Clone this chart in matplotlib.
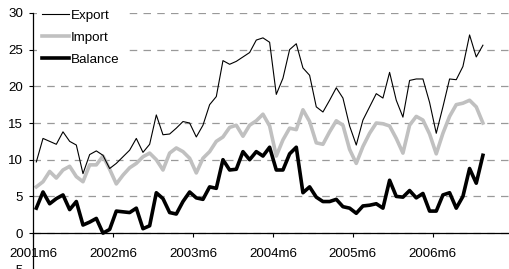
import numpy as np
import matplotlib
matplotlib.use("Agg")
import matplotlib.pyplot as plt

plt.rcParams['font.family'] = ['Liberation Sans', 'DejaVu Sans']

# monthly values, 2001m6 .. 2007m1
export = [9.7, 12.9, 12.5, 12.1, 13.8, 12.5, 12.0, 8.1, 10.7, 11.2, 10.6, 8.8,
          9.5, 10.4, 11.3, 12.9, 11.0, 12.1, 16.1, 13.4, 13.5, 14.3, 15.2, 15.0,
          13.1, 14.7, 17.5, 18.6, 23.5, 23.0, 23.4, 24.0, 24.6, 26.3, 26.6, 26.0,
          18.9, 21.1, 25.0, 25.8, 22.5, 21.5, 17.2, 16.5, 18.1, 19.8, 18.4, 14.6,
          12.0, 15.4, 17.2, 19.0, 18.4, 21.9, 18.1, 15.8, 20.8, 21.0, 21.0, 17.8,
          13.6, 17.2, 21.0, 20.9, 22.7, 27.0, 24.0, 25.6]
imports = [6.3, 7.0, 8.4, 7.5, 8.6, 9.1, 7.7, 7.0, 9.3, 9.3, 10.5, 8.7,
           6.7, 7.9, 8.9, 9.5, 10.4, 10.9, 10.0, 8.6, 10.9, 11.6, 11.1, 10.2,
           8.2, 10.2, 11.1, 12.5, 13.1, 14.4, 14.7, 13.2, 14.7, 15.3, 16.2, 14.6,
           10.5, 12.7, 14.3, 14.1, 16.8, 15.2, 12.3, 12.1, 13.8, 15.3, 14.7, 11.4,
           9.5, 11.8, 13.6, 15.0, 14.9, 14.6, 12.9, 10.9, 14.7, 15.9, 15.4, 13.5,
           10.8, 13.6, 15.9, 17.5, 17.7, 18.1, 17.2, 15.0]
balance = [3.4, 5.6, 4.0, 4.7, 5.2, 3.2, 4.3, 1.1, 1.5, 2.0, 0.0, 0.5,
           3.0, 2.9, 2.8, 3.4, 0.6, 1.0, 5.5, 4.7, 2.8, 2.6, 4.3, 5.6,
           4.8, 4.6, 6.3, 6.1, 10.0, 8.6, 8.7, 11.1, 10.0, 11.1, 10.5, 11.7,
           8.6, 8.6, 10.8, 11.7, 5.5, 6.3, 4.9, 4.3, 4.3, 4.6, 3.6, 3.4,
           2.7, 3.7, 3.8, 4.0, 3.4, 7.2, 5.0, 4.9, 5.8, 4.8, 5.4, 3.0,
           3.0, 5.2, 5.5, 3.4, 5.0, 8.8, 6.8, 10.6]
tick_labels = ['2001m6', '2002m6', '2003m6', '2004m6', '2005m6', '2006m6']
y_ticks = [-5, 0, 5, 10, 15, 20, 25, 30]

fig = plt.figure(figsize=(5.1, 2.69), dpi=100)
ax = fig.add_axes([0.0647, -0.003, 0.941, 0.955])

# points sit in the middle of each month slot
x = np.arange(len(export)) + 0.5
ax.plot(x, export, color='black', lw=0.8, label='Export', zorder=3)
ax.plot(x, imports, color='#c0c0c0', lw=2.6, label='Import', zorder=2)
ax.plot(x, balance, color='black', lw=2.6, label='Balance', zorder=4)

ax.set_xlim(0, 72)
ax.set_ylim(-5, 30)
ax.set_yticks(y_ticks)
ax.set_xticks(np.arange(len(tick_labels)) * 12)
ax.set_xticklabels(tick_labels)

# dashed grey gridlines, x axis crosses at zero
ax.grid(axis='y', color='#999999', linestyle=(0, (6, 5)), linewidth=0.9, zorder=0)
ax.spines['top'].set_visible(False)
ax.spines['right'].set_visible(False)
ax.spines['bottom'].set_position(('data', 0))
ax.spines['bottom'].set_zorder(5)
ax.spines['left'].set_linewidth(0.9)
ax.spines['bottom'].set_linewidth(0.9)
ax.tick_params(axis='x', direction='out', length=3, width=0.8, pad=8, labelsize=9.6)
ax.tick_params(axis='y', direction='out', length=3, width=0.8, pad=4, labelsize=9.6)

leg = ax.legend(loc='upper left', bbox_to_anchor=(0.0, 1.05), frameon=True,
                fontsize=9.6, handlelength=2.0, handletextpad=0.15,
                labelspacing=0.72, borderpad=0.4, borderaxespad=0.3)
leg.get_frame().set_facecolor('white')
leg.get_frame().set_edgecolor('none')
leg.get_frame().set_alpha(1)
leg.set_zorder(6)

fig.savefig('out.png', dpi=100)
